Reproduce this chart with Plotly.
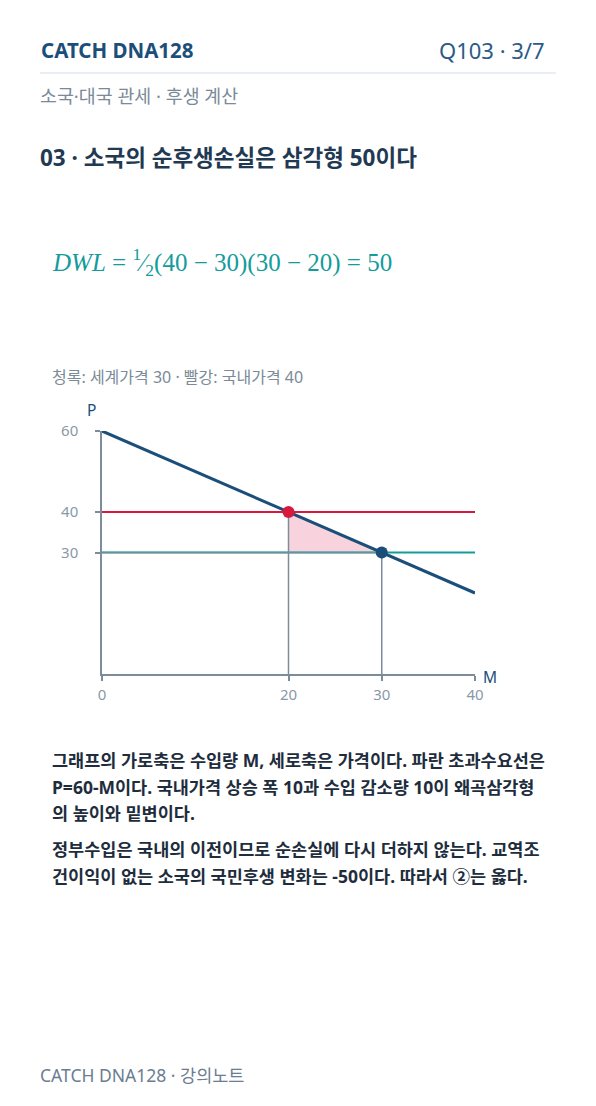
import plotly.graph_objects as go

# ---- data ----
demand_m = [0, 40]          # import quantity M
demand_p = [60, 20]         # P = 60 - M
world_price = 30
domestic_price = 40
m_free = 30                 # imports at world price
m_tariff = 20               # imports at domestic price
x_ticks = [0, 20, 30, 40]
y_ticks = [30, 40, 60]

NAVY = "#1b4f7a"
RED = "#d7193f"
TEAL = "#149b9b"
GUIDE = "#7d8c9a"
PINK = "rgba(236,140,165,0.38)"
FONT = "Noto Sans, Noto Sans CJK KR, sans-serif"

OFF = 8  # page body margin
W, H = 596, 1106
L, R, T, B = 102 - OFF, 121 + OFF, 431 - OFF, 432 + OFF
PW, PH = W - L - R, H - T - B


def px(x):
    return (x - OFF - L) / PW


def py(y):
    return (H - B - (y - OFF)) / PH


fig = go.Figure()

# DWL triangle
fig.add_trace(go.Scatter(
    x=[m_tariff, m_tariff, m_free, m_tariff],
    y=[domestic_price, world_price, world_price, domestic_price],
    fill="toself", fillcolor=PINK, line=dict(width=0), mode="lines",
    hoverinfo="skip", showlegend=False))

# world price line (teal)
fig.add_trace(go.Scatter(x=[0, 40], y=[world_price, world_price], mode="lines",
                         line=dict(color=TEAL, width=2.2), showlegend=False))
# domestic price line (red)
fig.add_trace(go.Scatter(x=[0, 40], y=[domestic_price, domestic_price], mode="lines",
                         line=dict(color=RED, width=2.2), showlegend=False))
# guides
fig.add_trace(go.Scatter(x=[m_tariff, m_tariff], y=[0, domestic_price], mode="lines",
                         line=dict(color=GUIDE, width=1.5), showlegend=False))
fig.add_trace(go.Scatter(x=[m_free, m_free], y=[0, world_price], mode="lines",
                         line=dict(color=GUIDE, width=1.5), showlegend=False))
fig.add_trace(go.Scatter(x=[0, m_free], y=[world_price, world_price], mode="lines",
                         line=dict(color=GUIDE, width=1.5), opacity=0.9, showlegend=False))
# demand line
fig.add_trace(go.Scatter(x=demand_m, y=demand_p, mode="lines",
                         line=dict(color=NAVY, width=3), showlegend=False))
# points
fig.add_trace(go.Scatter(x=[m_tariff], y=[domestic_price], mode="markers",
                         marker=dict(color=RED, size=12), cliponaxis=False, showlegend=False))
fig.add_trace(go.Scatter(x=[m_free], y=[world_price], mode="markers",
                         marker=dict(color=NAVY, size=12), cliponaxis=False, showlegend=False))

fig.update_xaxes(range=[0, 40], tickvals=x_ticks, ticktext=[str(v) for v in x_ticks],
                 showgrid=False, zeroline=False, showline=True, linecolor=GUIDE, linewidth=1.5,
                 ticks="outside", ticklen=5, tickcolor=GUIDE, tickwidth=1.5,
                 tickfont=dict(family=FONT, size=15, color="#8a99a8"), ticklabelstandoff=1)
fig.update_yaxes(range=[0, 60], tickvals=y_ticks, ticktext=[str(v) for v in y_ticks],
                 showgrid=False, zeroline=False, showline=True, linecolor=GUIDE, linewidth=1.5,
                 ticks="outside", ticklen=5, tickcolor=GUIDE, tickwidth=1.5,
                 tickfont=dict(family=FONT, size=15, color="#8a99a8"), ticklabelstandoff=14)

ann = []


def text(x, y, s, size, color, xanchor="left", bold=False, family=FONT):
    if bold:
        s = "<b>" + s + "</b>"
    ann.append(dict(x=px(x), y=py(y), xref="paper", yref="paper", text=s, showarrow=False,
                    xanchor=xanchor, yanchor="middle",
                    font=dict(family=family, size=size, color=color)))


text(39, 50, "CATCH DNA128", 20.5, NAVY, bold=True)
text(547, 50, "Q103 · 3/7", 22, "#2b5b86", xanchor="right")
text(38, 95, "소국·대국 관세 · 후생 계산", 18.4, "#7b8a98")
text(38, 157, "03 · 소국의 순후생손실은 삼각형 50이다", 22.5, "#1f3a52", bold=True)
text(50, 262, "<i>DWL</i> = <sup>1</sup>⁄<sub>2</sub>(40 − 30)(30 − 20) = 50", 25, TEAL,
     family="Liberation Serif, serif")
text(50, 377, "청록: 세계가격 30 · 빨강: 국내가격 40", 16, "#7b8a98")
text(85, 410, "P", 15.5, NAVY)
text(481, 677, "M", 15.5, NAVY)

body1 = ["그래프의 가로축은 수입량 M, 세로축은 가격이다. 파란 초과수요선은",
         "P=60-M이다. 국내가격 상승 폭 10과 수입 감소량 10이 왜곡삼각형",
         "의 높이와 밑변이다."]
body2 = ["정부수입은 국내의 이전이므로 순손실에 다시 더하지 않는다. 교역조",
         "건이익이 없는 소국의 국민후생 변화는 -50이다. 따라서 ②는 옳다."]
for i, s in enumerate(body1):
    text(50, 760 + 26.5 * i, s, 17.5, "#1e2d3d", bold=True)
for i, s in enumerate(body2):
    text(50, 849 + 26.5 * i, s, 17.5, "#1e2d3d", bold=True)

text(38, 1075, "CATCH DNA128 · 강의노트", 17.5, "#6b7d90")

fig.update_layout(
    width=W, height=H, margin=dict(l=L, r=R, t=T, b=B, autoexpand=False),
    paper_bgcolor="white", plot_bgcolor="white", annotations=ann,
    shapes=[dict(type="line", xref="paper", yref="paper", x0=px(40), x1=px(556),
                 y0=py(73), y1=py(73), line=dict(color="#d3dde8", width=1))],
    showlegend=False)

fig.write_html("out.html")
